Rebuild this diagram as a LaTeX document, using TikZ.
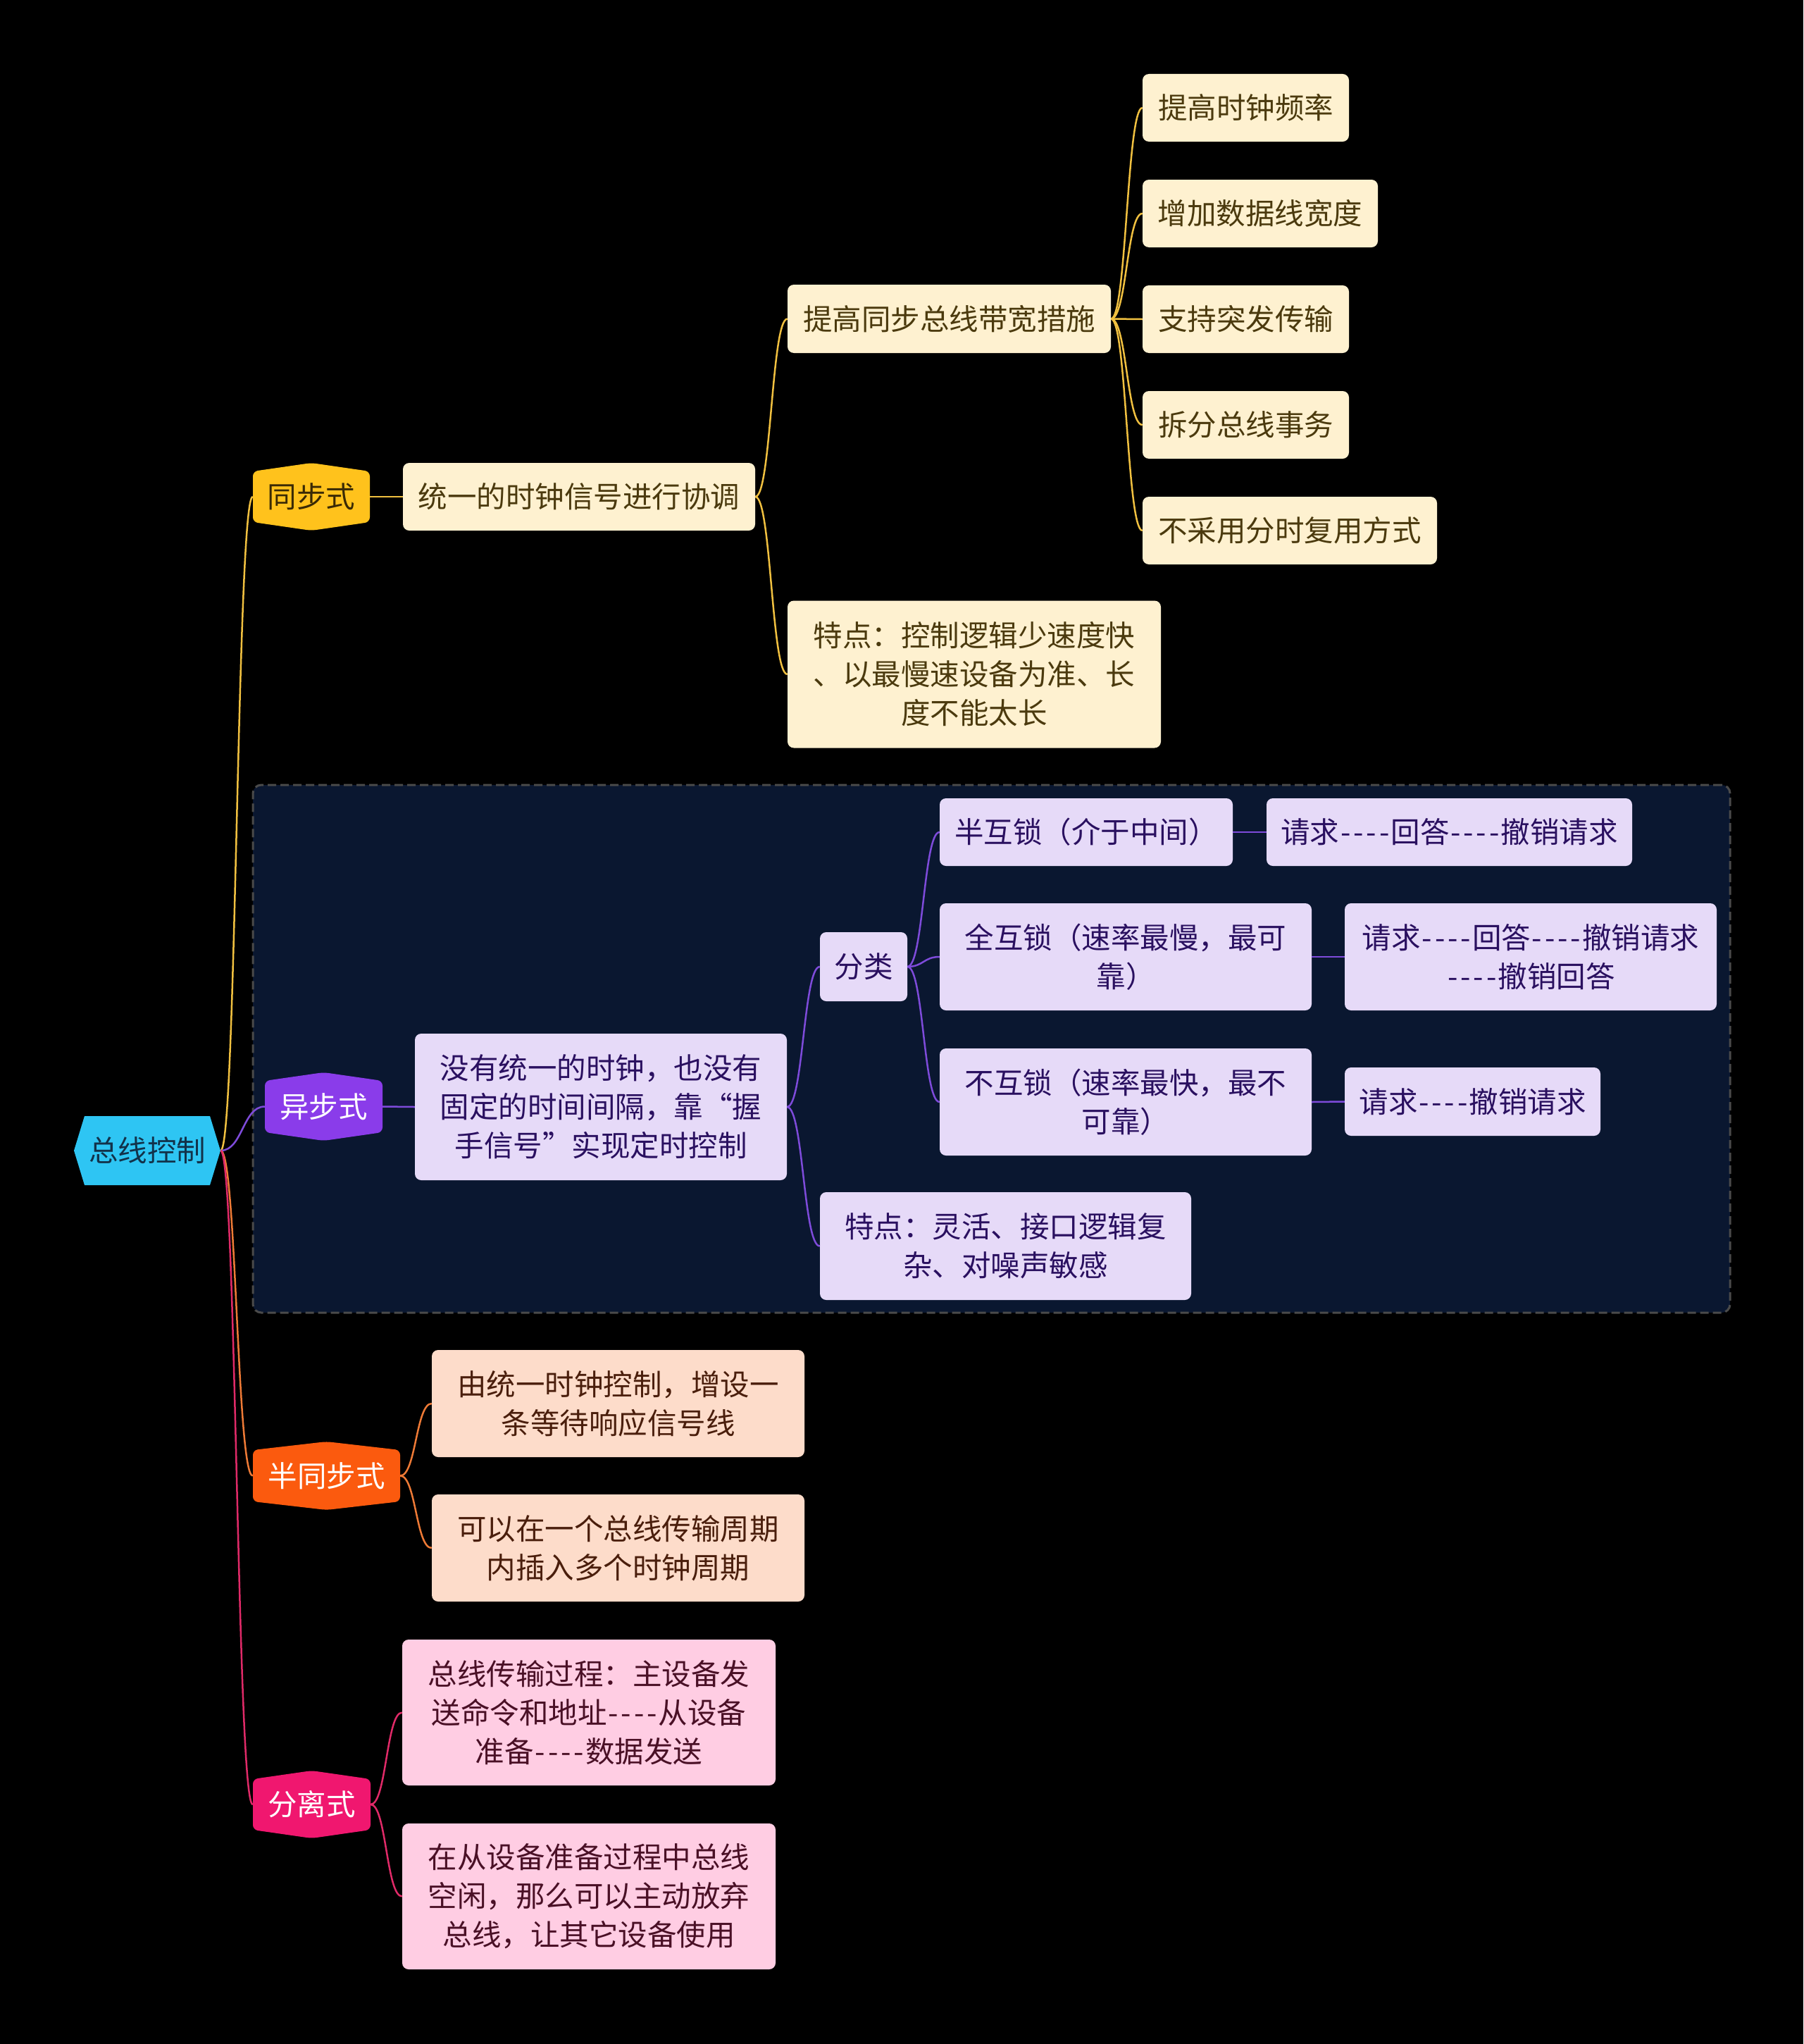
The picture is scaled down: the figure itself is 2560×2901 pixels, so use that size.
\documentclass[tikz,border=0pt]{standalone}
\usepackage{fontspec}
\setmainfont{Noto Sans CJK SC}[Ligatures=TeXOff]
\usetikzlibrary{calc}
\definecolor{rootc}{HTML}{2EC5F3}
\definecolor{roott}{HTML}{12324A}
\definecolor{syc}{HTML}{FFC21C}
\definecolor{syt}{HTML}{3A2A05}
\definecolor{syb}{HTML}{FEF1D0}
\definecolor{sybt}{HTML}{4B3A0E}
\definecolor{syl}{HTML}{F0C040}
\definecolor{asc}{HTML}{8A3CEA}
\definecolor{asb}{HTML}{E6DAF8}
\definecolor{asbt}{HTML}{2A1060}
\definecolor{asl}{HTML}{7E4BDA}
\definecolor{asbg}{HTML}{0A1730}
\definecolor{asfr}{HTML}{4A4A4A}
\definecolor{smc}{HTML}{FB5A0E}
\definecolor{smb}{HTML}{FDDCCA}
\definecolor{smbt}{HTML}{4A1E0C}
\definecolor{sml}{HTML}{EE7A36}
\definecolor{spc}{HTML}{F0176F}
\definecolor{spb}{HTML}{FFCDE3}
\definecolor{spbt}{HTML}{4A1026}
\definecolor{spl}{HTML}{E02A68}
\newcommand\hyph{\makebox[0.44em]{-}}
\newcommand\dashes{\hyph\hyph\hyph\hyph}
\newcommand\mmlink[3]{\draw[#1] let \p1=(#2.east), \p2=(#3.west), \n1={(\x2-\x1)/2} in (\p1) .. controls +(\n1,0) and +(-\n1,0) .. (\p2);}
\tikzset{
  txt/.style={inner sep=0pt, align=center, font=\fontsize{41.5}{55}\selectfont},
  mmbox/.style={txt, rectangle, rounded corners=9pt, fill=#1},
  sybox/.style={mmbox=syb, text=sybt},
  asbox/.style={mmbox=asb, text=asbt},
  smbox/.style={mmbox=smb, text=smbt},
  spbox/.style={mmbox=spb, text=spbt},
  hexv/.style={txt, rectangle, path picture={\fill[#1, rounded corners=7pt]
     ([yshift=-12pt]path picture bounding box.north west) -- (path picture bounding box.north) --
     ([yshift=-12pt]path picture bounding box.north east) -- ([yshift=12pt]path picture bounding box.south east) --
     (path picture bounding box.south) -- ([yshift=12pt]path picture bounding box.south west) -- cycle;}},
  hexh/.style={txt, rectangle, path picture={\fill[#1]
     (path picture bounding box.west) -- ([xshift=15pt]path picture bounding box.north west) --
     ([xshift=-15pt]path picture bounding box.north east) -- (path picture bounding box.east) --
     ([xshift=-15pt]path picture bounding box.south east) -- ([xshift=15pt]path picture bounding box.south west) -- cycle;}},
  conn/.style={draw=#1, line width=2.5pt},
}
\begin{document}
\begin{tikzpicture}[x=1pt,y=-1pt]
\fill[black] (0,0) rectangle (2560,2901);
\useasboundingbox (0,0) rectangle (2560,2901);
% async frame
\node[draw=asfr, fill=asbg, line width=3pt, dash pattern=on 12pt off 6pt, rounded corners=12pt,
      minimum width=2097pt, minimum height=749pt, inner sep=0pt] (asframe) at (1407.5,1488.5) {};
% root
\node[hexh=rootc, text=roott, minimum width=208pt, minimum height=98pt] (root) at (209,1633) {总线控制};
% sync
\node[hexv=syc, text=syt, minimum width=166pt, minimum height=96pt] (sy) at (442,705) {同步式};
\node[sybox, minimum width=500pt, minimum height=96pt] (sy1) at (822,705) {统一的时钟信号进行协调};
\node[sybox, minimum width=459pt, minimum height=97pt] (sy2) at (1347.5,452.5) {提高同步总线带宽措施};
\node[sybox, minimum width=530pt, minimum height=209pt] (sy3) at (1383,957) {特点：控制逻辑少速度快\\、以最慢速设备为准、长\\度不能太长};
\node[sybox, minimum width=293pt, minimum height=96pt] (sya) at (1768.5,153) {提高时钟频率};
\node[sybox, minimum width=334pt, minimum height=96pt] (syb) at (1789,303) {增加数据线宽度};
\node[sybox, minimum width=293pt, minimum height=96pt] (syc) at (1768.5,453) {支持突发传输};
\node[sybox, minimum width=293pt, minimum height=96pt] (syd) at (1768.5,603) {拆分总线事务};
\node[sybox, minimum width=418pt, minimum height=96pt] (sye) at (1831,753) {不采用分时复用方式};
% async
\node[hexv=asc, text=white, minimum width=167pt, minimum height=97pt] (as) at (459.5,1570.5) {异步式};
\node[asbox, minimum width=528pt, minimum height=208pt] (as1) at (853,1571) {没有统一的时钟，也没有\\固定的时间间隔，靠“握\\手信号”实现定时控制};
\node[asbox, minimum width=124pt, minimum height=98pt] (as2) at (1226,1372) {分类};
\node[asbox, minimum width=527pt, minimum height=153pt] (as3) at (1427.5,1768.5) {特点：灵活、接口逻辑复\\杂、对噪声敏感};
\node[asbox, minimum width=416pt, minimum height=96pt] (asa) at (1542,1181) {半互锁（介于中间）};
\node[asbox, minimum width=519pt, minimum height=96pt] (asa1) at (2057.5,1181) {请求\dashes 回答\dashes 撤销请求};
\node[asbox, minimum width=528pt, minimum height=152pt] (asb) at (1598,1358) {全互锁（速率最慢，最可\\靠）};
\node[asbox, minimum width=528pt, minimum height=152pt] (asb1) at (2173,1358) {请求\dashes 回答\dashes 撤销请求\\\dashes 撤销回答};
\node[asbox, minimum width=528pt, minimum height=152pt] (asc) at (1598,1564) {不互锁（速率最快，最不\\可靠）};
\node[asbox, minimum width=363pt, minimum height=97pt] (asc1) at (2090.5,1563.5) {请求\dashes 撤销请求};
% semi-sync
\node[hexv=smc, text=white, minimum width=209pt, minimum height=97pt] (sm) at (463.5,2094.5) {半同步式};
\node[smbox, minimum width=529pt, minimum height=152pt] (sm1) at (877.5,1992) {由统一时钟控制，增设一\\条等待响应信号线};
\node[smbox, minimum width=529pt, minimum height=152pt] (sm2) at (877.5,2197) {可以在一个总线传输周期\\内插入多个时钟周期};
% separated
\node[hexv=spc, text=white, minimum width=167pt, minimum height=96pt] (sp) at (442.5,2561) {分离式};
\node[spbox, minimum width=530pt, minimum height=207pt] (sp1) at (836,2430.5) {总线传输过程：主设备发\\送命令和地址\dashes 从设备\\准备\dashes 数据发送};
\node[spbox, minimum width=530pt, minimum height=207pt] (sp2) at (836,2691.5) {在从设备准备过程中总线\\空闲，那么可以主动放弃\\总线，让其它设备使用};
% connectors
\mmlink{conn=syl}{root}{sy}
\mmlink{conn=asl}{root}{as}
\mmlink{conn=sml}{root}{sm}
\mmlink{conn=spl}{root}{sp}
\mmlink{conn=syl}{sy}{sy1}
\mmlink{conn=syl}{sy1}{sy2}
\mmlink{conn=syl}{sy1}{sy3}
\mmlink{conn=syl}{sy2}{sya}
\mmlink{conn=syl}{sy2}{syb}
\mmlink{conn=syl}{sy2}{syc}
\mmlink{conn=syl}{sy2}{syd}
\mmlink{conn=syl}{sy2}{sye}
\mmlink{conn=asl}{as}{as1}
\mmlink{conn=asl}{as1}{as2}
\mmlink{conn=asl}{as1}{as3}
\mmlink{conn=asl}{as2}{asa}
\mmlink{conn=asl}{as2}{asb}
\mmlink{conn=asl}{as2}{asc}
\mmlink{conn=asl}{asa}{asa1}
\mmlink{conn=asl}{asb}{asb1}
\mmlink{conn=asl}{asc}{asc1}
\mmlink{conn=sml}{sm}{sm1}
\mmlink{conn=sml}{sm}{sm2}
\mmlink{conn=spl}{sp}{sp1}
\mmlink{conn=spl}{sp}{sp2}
\end{tikzpicture}
\end{document}
